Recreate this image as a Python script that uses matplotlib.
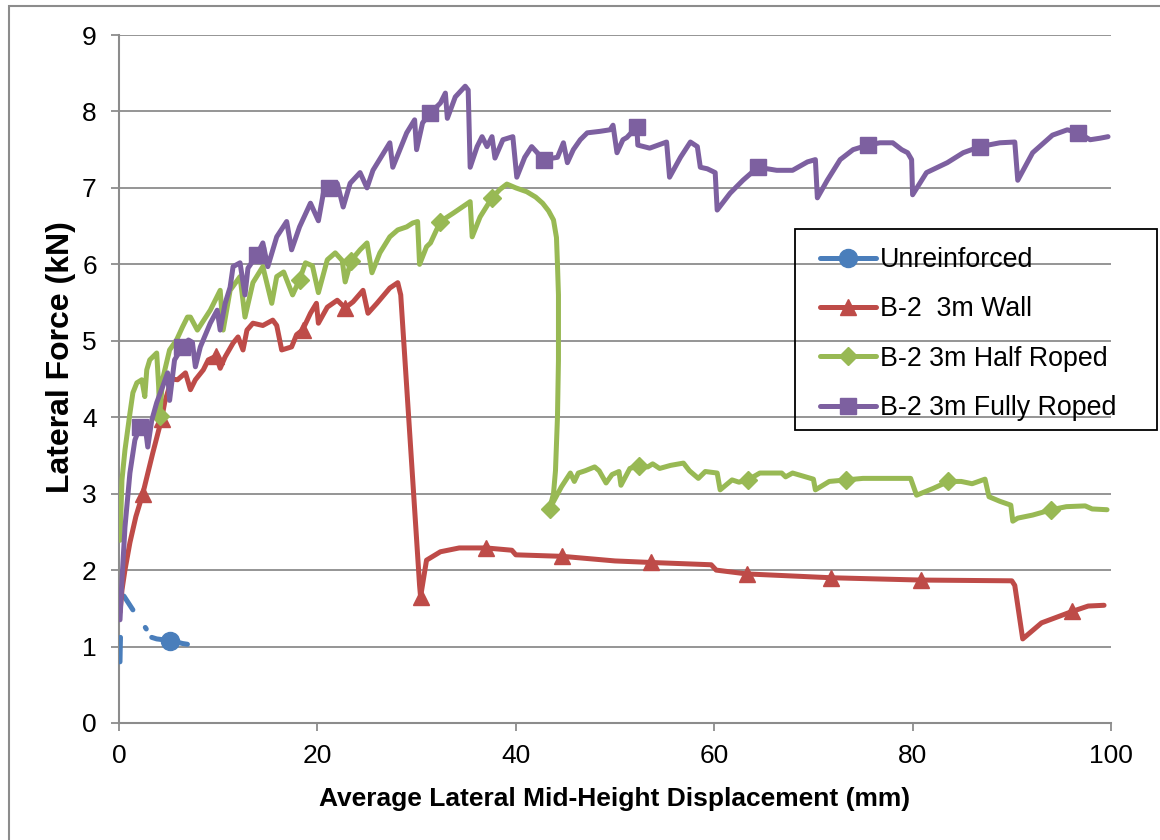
import numpy as np
import matplotlib
matplotlib.use("Agg")
import matplotlib.pyplot as plt
from matplotlib.lines import Line2D
from matplotlib.patches import Rectangle

plt.rcParams['font.family'] = ['Liberation Sans', 'DejaVu Sans']

# ---------------- data ----------------
# Unreinforced wall: short broken trace near the origin (NaN splits the pieces)
unr_x = [0.1, 0.12, 0.15, np.nan, 0.5, 0.9, 1.4, np.nan, 2.65, 2.75, np.nan,
         3.3, 3.8, 4.4, 5.1, 5.8, 6.4, 6.9]
unr_y = [0.80, 0.95, 1.12, np.nan, 1.66, 1.58, 1.48, np.nan, 1.25, 1.23, np.nan,
         1.12, 1.10, 1.09, 1.07, 1.06, 1.04, 1.03]
unr_marks = [5.1]

# B-2 3m wall
wall_x = [0.1, 0.3, 0.6, 1.1, 1.7, 2.4, 3.4, 4.3, 4.6, 5.3, 5.9, 6.7, 7.2, 7.7,
          8.5, 9.0, 9.8, 10.2, 10.7, 11.5, 12.0, 12.5, 12.9, 13.5, 14.5, 15.5,
          15.9, 16.4, 17.4, 17.9, 18.5, 19.3, 19.9, 20.1, 21.0, 22.0, 22.8,
          23.6, 24.6, 25.1, 26.0, 27.3, 28.1, 28.4, 30.3, 30.4, 31.0, 32.4,
          34.3, 37.0, 39.6, 40.0, 44.7, 50.0, 53.6, 59.7, 60.2, 63.3, 71.8,
          80.8, 90.0, 90.3, 91.1, 93.0, 96.1, 97.7, 99.3]
wall_y = [1.45, 1.74, 2.00, 2.36, 2.70, 3.00, 3.53, 3.98, 4.19, 4.50, 4.49, 4.58,
          4.36, 4.49, 4.62, 4.75, 4.80, 4.64, 4.79, 4.97, 5.05, 4.88, 5.14,
          5.23, 5.20, 5.27, 5.20, 4.88, 4.92, 5.08, 5.14, 5.36, 5.49, 5.23,
          5.44, 5.53, 5.43, 5.51, 5.66, 5.36, 5.49, 5.69, 5.76, 5.60, 1.80,
          1.65, 2.13, 2.24, 2.29, 2.29, 2.26, 2.20, 2.18, 2.12, 2.10, 2.07,
          2.00, 1.95, 1.90, 1.87, 1.86, 1.80, 1.10, 1.31, 1.46, 1.53, 1.54]
wall_marks = [2.4, 4.3, 9.8, 18.5, 22.8, 30.4, 37.0, 44.7, 53.6, 63.3, 71.8,
              80.8, 96.1]

# B-2 3m half roped
half_x = [0.1, 0.3, 0.6, 1.1, 1.4, 1.8, 2.3, 2.6, 2.8, 3.1, 3.8, 4.0, 4.1, 4.4,
          5.1, 5.8, 6.4, 6.9, 7.2, 7.9, 9.2, 10.2, 10.5, 11.2, 12.2, 12.7, 13.5,
          14.5, 15.4, 15.9, 16.6, 17.5, 18.2, 18.8, 19.5, 20.1, 21.0, 21.8,
          22.5, 22.8, 23.4, 24.3, 25.0, 25.5, 26.3, 27.3, 28.1, 29.0, 29.6,
          30.1, 30.3, 31.0, 31.4, 32.4, 33.7, 35.4, 35.6, 36.4, 37.6, 38.4,
          39.1, 40.0, 41.1, 42.0, 42.7, 43.3, 43.8, 44.1, 44.2, 44.3, 44.3,
          44.2, 44.0, 43.8, 43.4, 44.6, 45.5, 45.9, 46.3, 47.0, 47.95, 48.4,
          49.1, 49.7, 50.4, 50.6, 51.5, 52.4, 53.3, 53.8, 54.5, 55.6, 56.9,
          57.5, 58.4, 59.1, 60.3, 60.6, 61.8, 62.5, 63.4, 64.6, 66.8, 67.2,
          67.9, 70.0, 70.2, 71.6, 73.3, 75.0, 78.7, 79.8, 80.4, 82.1, 83.6,
          84.9, 86.0, 87.3, 87.7, 88.8, 89.9, 90.1, 90.6, 92.1, 94.0, 95.5,
          97.4, 98.1, 99.6]
half_y = [2.39, 3.18, 3.57, 4.05, 4.32, 4.45, 4.49, 4.27, 4.62, 4.75, 4.84, 4.40,
          4.02, 4.50, 4.88, 5.01, 5.18, 5.31, 5.31, 5.14, 5.40, 5.66, 5.14,
          5.66, 5.84, 5.31, 5.76, 5.97, 5.49, 5.84, 5.90, 5.60, 5.80, 6.02,
          5.98, 5.63, 6.06, 6.15, 6.05, 5.77, 6.05, 6.19, 6.28, 5.89, 6.15,
          6.36, 6.45, 6.49, 6.54, 6.56, 6.00, 6.23, 6.28, 6.56, 6.67, 6.82,
          6.36, 6.62, 6.87, 6.98, 7.05, 7.00, 6.95, 6.88, 6.80, 6.70, 6.58,
          6.35, 6.00, 5.60, 4.75, 4.00, 3.30, 3.00, 2.80, 3.09, 3.27, 3.16,
          3.27, 3.30, 3.35, 3.30, 3.14, 3.25, 3.29, 3.11, 3.33, 3.36, 3.35,
          3.39, 3.33, 3.37, 3.40, 3.30, 3.20, 3.29, 3.27, 3.05, 3.18, 3.15,
          3.18, 3.27, 3.27, 3.22, 3.27, 3.19, 3.05, 3.16, 3.18, 3.20, 3.20,
          3.20, 2.98, 3.07, 3.16, 3.16, 3.13, 3.19, 2.96, 2.90, 2.85, 2.64,
          2.68, 2.72, 2.79, 2.83, 2.84, 2.80, 2.79]
half_marks = [4.1, 18.2, 23.4, 32.4, 37.6, 43.4, 52.4, 63.4, 73.3, 83.6, 94.0]

# B-2 3m fully roped
full_x = [0.1, 0.3, 0.6, 1.1, 1.6, 2.1, 2.6, 2.9, 3.3, 3.8, 4.4, 4.9, 5.1, 5.6,
          6.4, 7.0, 7.4, 7.7, 8.2, 9.2, 9.9, 10.2, 10.7, 11.2, 11.5, 12.2, 12.7,
          13.0, 13.9, 14.5, 15.0, 15.9, 16.9, 17.4, 18.2, 19.3, 20.1, 20.6,
          21.2, 22.0, 22.6, 23.3, 24.3, 25.0, 25.6, 27.3, 27.6, 29.0, 29.8,
          30.0, 30.6, 31.4, 32.4, 32.9, 33.1, 33.9, 34.9, 35.2, 35.4, 36.1,
          36.6, 37.1, 37.6, 37.9, 38.7, 39.7, 40.1, 40.9, 41.6, 42.8, 44.2,
          44.8, 45.2, 45.8, 46.5, 47.2, 48.5, 49.5, 49.8, 50.2, 50.8, 51.2,
          52.2, 52.3, 53.5, 55.2, 55.5, 56.6, 57.6, 58.3, 58.6, 59.3, 60.1,
          60.3, 61.6, 62.9, 64.4, 66.3, 67.9, 69.4, 70.2, 70.4, 71.4, 72.7,
          74.0, 75.5, 76.7, 78.0, 78.9, 79.5, 79.9, 80.0, 81.4, 83.5, 85.1,
          86.8, 88.8, 90.3, 90.6, 92.1, 94.1, 95.6, 96.7, 97.9, 98.9, 99.7]
full_y = [1.35, 1.87, 2.56, 3.27, 3.70, 3.87, 3.92, 3.61, 3.96, 4.19, 4.40, 4.58,
          4.22, 4.75, 4.92, 5.01, 4.98, 4.66, 4.92, 5.23, 5.40, 5.14, 5.49,
          5.70, 5.97, 6.02, 5.60, 5.95, 6.12, 6.28, 5.97, 6.36, 6.56, 6.19,
          6.49, 6.80, 6.57, 6.93, 7.00, 7.06, 6.75, 7.06, 7.20, 7.00, 7.23,
          7.59, 7.27, 7.72, 7.89, 7.50, 7.85, 7.98, 8.11, 8.24, 7.91, 8.19,
          8.33, 8.28, 7.27, 7.54, 7.67, 7.54, 7.67, 7.39, 7.63, 7.67, 7.14,
          7.40, 7.54, 7.37, 7.40, 7.59, 7.33, 7.50, 7.63, 7.72, 7.74, 7.76,
          7.82, 7.46, 7.63, 7.66, 7.80, 7.56, 7.52, 7.60, 7.14, 7.40, 7.60,
          7.54, 7.27, 7.25, 7.20, 6.71, 6.93, 7.10, 7.27, 7.23, 7.23, 7.34,
          7.37, 6.87, 7.10, 7.37, 7.50, 7.56, 7.59, 7.59, 7.50, 7.46, 7.37,
          6.91, 7.20, 7.33, 7.46, 7.54, 7.59, 7.60, 7.10, 7.46, 7.69, 7.76,
          7.72, 7.63, 7.65, 7.67]
full_marks = [2.1, 6.4, 13.9, 21.2, 31.4, 42.8, 52.2, 64.4, 75.5, 86.8, 96.7]

labels = ["Unreinforced", "B-2  3m Wall", "B-2 3m Half Roped", "B-2 3m Fully Roped"]
colors = ["#4A7EBB", "#BE4B48", "#98B954", "#7D60A0"]
markers = ["o", "^", "D", "s"]
msizes = [13, 12, 9.5, 11.5]

x_ticks = [0, 20, 40, 60, 80, 100]
y_ticks = list(range(10))


def mark_index(xs, marks):
    """Indices of the data points closest to the given marker positions."""
    arr = np.asarray(xs, dtype=float)
    arr = np.where(np.isnan(arr), np.inf, arr)
    return sorted({int(np.argmin(np.abs(arr - m))) for m in marks})


# ---------------- figure ----------------
W, H = 1160, 840
fig = plt.figure(figsize=(W / 100, H / 100), dpi=100)
ax_l, ax_r, ax_t, ax_b = 119, 1111, 35, 723
ax = fig.add_axes([ax_l / W, 1 - ax_b / H, (ax_r - ax_l) / W, (ax_b - ax_t) / H])

grid_c = "#8C8C8C"
series = [(unr_x, unr_y, unr_marks), (wall_x, wall_y, wall_marks),
          (half_x, half_y, half_marks), (full_x, full_y, full_marks)]
handles = []
for (xs, ys, mk), lab, c, m, ms in zip(series, labels, colors, markers, msizes):
    ax.plot(xs, ys, color=c, lw=3.6, solid_joinstyle="round",
            solid_capstyle="round", marker=m, ms=ms, mfc=c, mec=c,
            markevery=mark_index(xs, mk), zorder=3)
    handles.append(Line2D([], [], color=c, lw=3.6, marker=m, ms=ms,
                          mfc=c, mec=c, solid_capstyle="round"))

ax.set_xlim(0, 100)
ax.set_ylim(0, 9)
ax.set_xticks(x_ticks)
ax.set_yticks(y_ticks)
ax.yaxis.grid(True, color=grid_c, lw=1.3)
ax.set_axisbelow(True)
for s in ("top", "right"):
    ax.spines[s].set_visible(False)
for s in ("left", "bottom"):
    ax.spines[s].set_color(grid_c)
    ax.spines[s].set_linewidth(1.5)
ax.tick_params(axis="both", direction="out", length=6, width=1.3,
               color=grid_c, labelsize=19, labelcolor="black")
ax.tick_params(axis="y", pad=10)
ax.tick_params(axis="x", pad=9)

ax.set_xlabel("Average Lateral Mid-Height Displacement (mm)", fontsize=19,
              fontweight="bold", labelpad=14)
ax.set_ylabel("Lateral Force (kN)", fontsize=23, fontweight="bold")
ax.yaxis.set_label_coords((76 - ax_l) / (ax_r - ax_l),
                          (ax_b - 357) / (ax_b - ax_t))

# legend entries, with the box drawn as a separate frame
leg = ax.legend(handles, labels, loc="upper left",
                bbox_to_anchor=(820 / W, 1 - 247 / H),
                bbox_transform=fig.transFigure, frameon=False, fontsize=19.3,
                handlelength=2.1, handletextpad=0.15, labelspacing=0.87,
                borderpad=0, borderaxespad=0, numpoints=1)
fig.add_artist(Rectangle((795 / W, 1 - 430 / H), (1157 - 795) / W, (430 - 229) / H,
                         transform=fig.transFigure, fill=False,
                         edgecolor="black", lw=1.3))

# outer chart frame
fig.add_artist(Rectangle((9 / W, -0.05), 1.0, 1 - 6 / H + 0.05,
                         transform=fig.transFigure, fill=False,
                         edgecolor="#8C8C8C", lw=1.5))

fig.savefig("out.png", dpi=100)
